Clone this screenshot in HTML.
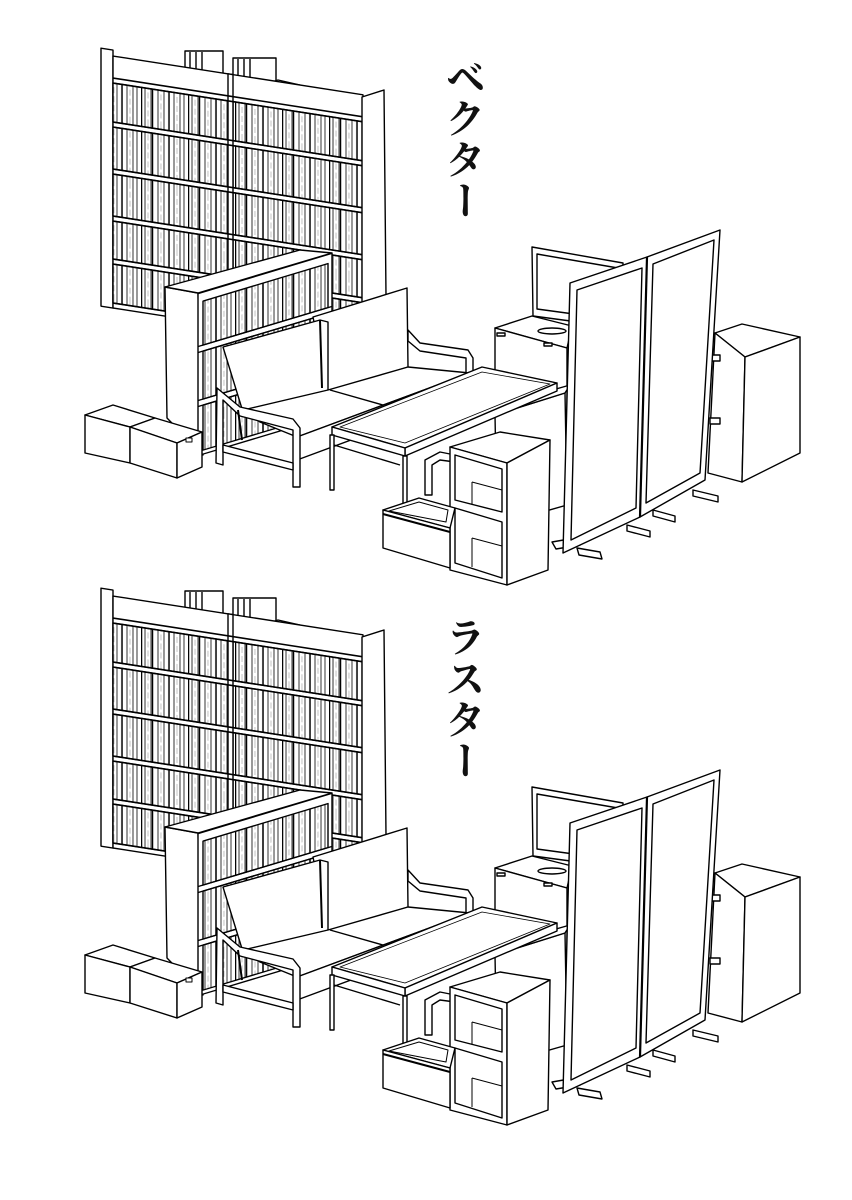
<!DOCTYPE html>
<html><head><meta charset="utf-8"><style>
html,body{margin:0;padding:0;background:#fff;}
body{width:852px;height:1200px;position:relative;overflow:hidden;}
svg{position:absolute;left:0;top:0;}
.t{position:absolute;writing-mode:vertical-rl;font-family:"Noto Serif CJK SC","Noto Sans CJK JP",serif;font-size:40px;font-weight:bold;line-height:1;color:#111;letter-spacing:1px;}
</style></head><body>
<svg width="852" height="1200" viewBox="0 0 852 1200" xmlns="http://www.w3.org/2000/svg">
<defs>
<pattern id="bk" patternUnits="userSpaceOnUse" width="47" height="60">
<rect width="47" height="60" fill="#fff"/>
<g stroke="#000" stroke-width="0.8">
<line x1="0.5" y1="0" x2="0.5" y2="60" stroke-width="1.5"/><line x1="4" y1="0" x2="4" y2="60"/>
<line x1="10" y1="0" x2="10" y2="60"/><line x1="11.5" y1="0" x2="11.5" y2="60" stroke-width="1.5"/>
<line x1="17" y1="0" x2="17" y2="60"/><line x1="23" y1="0" x2="23" y2="60"/>
<line x1="28" y1="0" x2="28" y2="60" stroke-width="1.5"/><line x1="33" y1="0" x2="33" y2="60"/>
<line x1="39" y1="0" x2="39" y2="60"/><line x1="43" y1="0" x2="43" y2="60"/>
</g>
<g stroke="#999" stroke-width="0.6" stroke-dasharray="6,3"><line x1="7" y1="0" x2="7" y2="60"/><line x1="20" y1="0" x2="20" y2="60"/><line x1="36" y1="0" x2="36" y2="60"/></g>
</pattern>
<g id="scene" stroke="#000" stroke-width="1.4" fill="#fff" stroke-linejoin="round">
<rect x="185" y="51" width="38" height="38"/>
<line x1="190" y1="52" x2="190" y2="88"/><line x1="196" y1="52" x2="196" y2="88"/><line x1="202" y1="52" x2="202" y2="88"/>
<rect x="233" y="58" width="43" height="41"/>
<line x1="238" y1="59" x2="238" y2="98"/><line x1="244" y1="59" x2="244" y2="98"/><line x1="250" y1="59" x2="250" y2="98"/>
<polygon points="259,86 278,80 300,85 300,100 280,106 259,100"/>
<g transform="matrix(1,0.155,0,1,0,-17.5)">
<rect x="101" y="50" width="12" height="258"/>
<rect x="113" y="56" width="250" height="252"/>
<rect x="113" y="83" width="115" height="39" fill="url(#bk)"/><rect x="233" y="83" width="130" height="39" fill="url(#bk)"/>
<rect x="113" y="127" width="115" height="42" fill="url(#bk)"/><rect x="233" y="127" width="130" height="42" fill="url(#bk)"/>
<rect x="113" y="174" width="115" height="42" fill="url(#bk)"/><rect x="233" y="174" width="130" height="42" fill="url(#bk)"/>
<rect x="113" y="221" width="115" height="38" fill="url(#bk)"/><rect x="233" y="221" width="130" height="38" fill="url(#bk)"/>
<rect x="113" y="264" width="115" height="39" fill="url(#bk)"/><rect x="233" y="264" width="130" height="39" fill="url(#bk)"/>
<rect x="228" y="56" width="5" height="252"/>
<g stroke-width="1.6">
<line x1="113" y1="78" x2="363" y2="78"/><line x1="113" y1="83" x2="363" y2="83"/>
<line x1="113" y1="122" x2="363" y2="122"/><line x1="113" y1="127" x2="363" y2="127"/>
<line x1="113" y1="169" x2="363" y2="169"/><line x1="113" y1="174" x2="363" y2="174"/>
<line x1="113" y1="216" x2="363" y2="216"/><line x1="113" y1="221" x2="363" y2="221"/>
<line x1="113" y1="259" x2="363" y2="259"/><line x1="113" y1="264" x2="363" y2="264"/>
<line x1="113" y1="303" x2="363" y2="303"/>
</g>
</g>
<polygon points="362,97 384,90 386,296 362,308"/>
<polygon points="165,287 198,293 203,455 167,418"/>
<polygon points="165,287 300,250 332,253 198,293"/>
<g transform="matrix(1,-0.3,0,1,0,60)">
<rect x="198" y="293" width="134" height="162"/>
<rect x="203" y="302" width="125" height="44" fill="url(#bk)"/>
<rect x="203" y="352" width="125" height="48" fill="url(#bk)"/>
<rect x="203" y="406" width="125" height="45" fill="url(#bk)"/>
<line x1="198" y1="346" x2="332" y2="346"/><line x1="198" y1="352" x2="332" y2="352"/>
<line x1="198" y1="400" x2="332" y2="400"/><line x1="198" y1="406" x2="332" y2="406"/>
</g>
<polygon points="85,415 113,405 155,418 130,427"/>
<polygon points="130,427 155,418 202,432 177,443"/>
<polygon points="85,415 130,427 130,463 85,453"/>
<polygon points="130,427 177,443 177,478 130,463"/>
<polygon points="177,443 202,432 202,467 177,478"/>
<rect x="186" y="438" width="6" height="4" stroke-width="1"/>
<polygon points="313,317 407,288 408,367 328,392"/>
<polygon points="223,347 320,320 328,322 328,392 243,412"/>
<line x1="320" y1="320" x2="322" y2="388" stroke-width="2"/>
<polygon points="243,410 328,390 408,367 470,373 297,437 260,422"/>
<line x1="330" y1="390" x2="383" y2="405"/>
<polygon points="297,437 470,373 470,396 297,460"/>
<path d="M408,330 L420,343 L468,350 L473,358 L473,372 L466,373 L466,358 L420,351 L408,341 Z"/>
<path d="M217,388 L240,407 L293,419 L300,428 L300,487 L293,487 L293,430 L240,416 L223,400 L223,465 L216,463 Z"/>
<polygon points="223,445 293,463 293,470 223,452"/>
<line x1="238" y1="410" x2="242" y2="440" stroke-width="2"/>
<polygon points="495,328 532,316 572,326 567,348"/>
<polygon points="495,328 567,348 567,410 495,395"/>
<rect x="497" y="333" width="8" height="3"/><rect x="544" y="343" width="8" height="3"/>
<polygon points="532,247 623,263 623,328 533,316"/>
<polygon points="537,254 618,268 618,320 537,309"/>
<ellipse cx="552" cy="331" rx="14" ry="3"/>
<polygon points="495,415 565,393 567,505 497,525"/>
<polygon points="495,415 500,405 570,385 565,393"/>
<polygon points="332,427 482,367 557,383 405,448"/>
<polygon points="340,427 482,372 550,384 405,443" fill="none" stroke-width="0.8"/>
<polygon points="405,448 557,383 557,391 405,456"/>
<polygon points="332,427 405,448 405,456 332,435"/>
<rect x="330" y="435" width="4" height="55"/>
<rect x="403" y="456" width="4" height="58"/>
<line x1="334" y1="445" x2="400" y2="465"/>
<polygon points="715,333 742,324 800,337 745,357"/>
<polygon points="715,333 745,357 742,482 708,473"/>
<polygon points="745,357 800,337 800,453 742,482"/>
<rect x="710" y="355" width="10" height="6"/><rect x="710" y="418" width="10" height="6"/>
<polygon points="552,542 575,538 580,545 556,549"/>
<polygon points="577,548 600,552 602,559 579,555"/>
<polygon points="627,525 650,531 650,537 627,531"/>
<polygon points="653,510 675,516 675,522 653,516"/>
<polygon points="693,490 718,496 718,502 693,496"/>
<polygon points="570,283 647,257 640,517 563,553"/>
<polygon points="577,290 642,268 636,508 571,540"/>
<polygon points="647,257 720,230 705,480 640,517"/>
<polygon points="653,264 714,240 700,473 646,503"/>
<line x1="647" y1="257" x2="640" y2="517" stroke-width="2.2"/>
<path d="M425,495 L425,460 L440,452 L455,455 L455,462 L440,460 L432,465 L432,495 Z"/>
<polygon points="450,447 500,432 550,440 507,463"/>
<polygon points="450,447 507,463 507,585 450,570"/>
<polygon points="507,463 550,440 548,570 507,585"/>
<polygon points="455,455 502,469 502,512 455,500"/>
<polygon points="455,508 502,522 502,578 455,563"/>
<line x1="472" y1="482" x2="502" y2="490" stroke-width="1"/><line x1="472" y1="482" x2="472" y2="504" stroke-width="1"/>
<line x1="472" y1="538" x2="502" y2="546" stroke-width="1"/><line x1="472" y1="538" x2="472" y2="567" stroke-width="1"/>
<polygon points="383,510 419,498 455,508 450,528"/>
<polygon points="389,511 419,502 448,510 446,522" stroke-width="1"/>
<polygon points="383,510 450,528 450,568 383,548"/>
<line x1="383" y1="514" x2="450" y2="532" stroke-width="2"/>
</g>
</defs>
<use href="#scene"/>
<use href="#scene" transform="translate(0,540)"/>
</svg>
<div class="t" style="left:445px;top:57px;">ベクター</div>
<div class="t" style="left:445px;top:617px;">ラスター</div>
</body></html>
